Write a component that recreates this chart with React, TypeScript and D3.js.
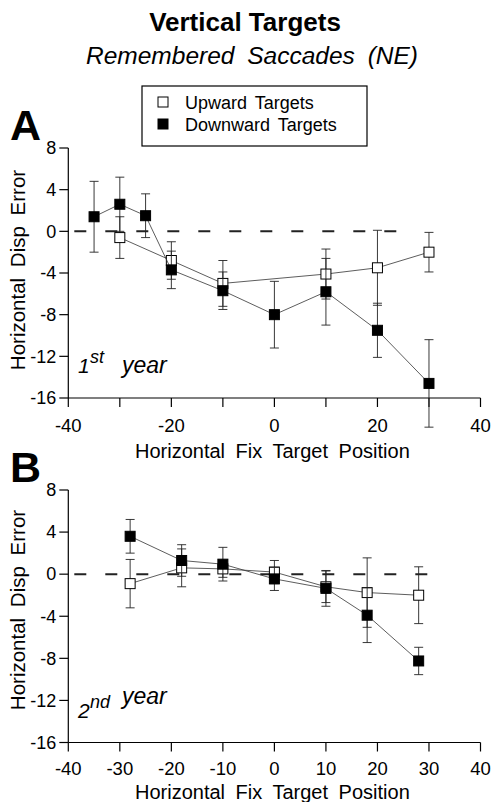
import React from "react";
import * as d3 from "d3";

// ---- Data ----
const xTicksA = [-40, -20, 0, 20, 40];
const xTicksB = [-40, -30, -20, -10, 0, 10, 20, 30, 40];
const xMinorA = [-30, -10, 10, 30];
const yTicks = [8, 4, 0, -4, -8, -12, -16];

const aUpX = [-30, -20, -10, 10, 20, 30];
const aUpY = [-0.6, -2.8, -5.0, -4.1, -3.5, -2.0];
const aUpErr = [2.0, 1.8, 2.2, 2.4, 3.6, 1.9];
const aDownX = [-35, -30, -25, -20, -10, 0, 10, 20, 30];
const aDownY = [1.4, 2.6, 1.5, -3.7, -5.7, -8.0, -5.8, -9.5, -14.6];
const aDownErr = [3.4, 2.6, 2.1, 1.8, 1.8, 3.2, 3.2, 2.6, 4.2];

const bUpX = [-28, -18, -10, 0, 10, 18, 28];
const bUpY = [-0.9, 0.6, 0.5, 0.2, -1.2, -1.75, -2.0];
const bUpErr = [2.3, 1.8, 0.8, 1.1, 1.5, 3.3, 2.7];
const bDownX = [-28, -18, -10, 0, 10, 18, 28];
const bDownY = [3.6, 1.3, 0.95, -0.45, -1.35, -3.9, -8.25];
const bDownErr = [1.6, 1.5, 1.6, 1.1, 1.7, 2.6, 1.3];

const FONT = "'Liberation Sans', Arial, Helvetica, sans-serif";

type Series = { x: number[]; y: number[]; err: number[]; filled: boolean };

function Panel(props: {
  top: number;
  bottom: number;
  letter: string;
  letterY: number;
  xTicks: number[];
  xMinor: number[];
  up: Series;
  down: Series;
  dashEnd: number;
  yearNum: string;
  yearSup: string;
  yearNumY: number;
  yearRestY: number;
  tickLabelY: number;
  titleY: number;
  yLabelCenter: number;
}) {
  const x = d3.scaleLinear().domain([-40, 40]).range([68.3, 480.5]);
  const y = d3.scaleLinear().domain([-16, 8]).range([props.bottom, props.top]);
  const line = d3
    .line<[number, number]>()
    .x((d) => x(d[0]))
    .y((d) => y(d[1]));

  const drawSeries = (s: Series, key: string) => {
    const pts: [number, number][] = s.x.map((v, i) => [v, s.y[i]]);
    return (
      <g key={key}>
        <path d={line(pts) || ""} fill="none" stroke="#333" strokeWidth={0.8} />
        {pts.map((p, i) => {
          const cx = x(p[0]);
          const y1 = y(p[1] + s.err[i]);
          const y2 = y(p[1] - s.err[i]);
          return (
            <g key={i} stroke="#222" strokeWidth={0.9}>
              <line x1={cx} x2={cx} y1={y1} y2={y2} />
              <line x1={cx - 4.5} x2={cx + 4.5} y1={y1} y2={y1} />
              <line x1={cx - 4.5} x2={cx + 4.5} y1={y2} y2={y2} />
            </g>
          );
        })}
        {pts.map((p, i) => (
          <rect
            key={"m" + i}
            x={x(p[0]) - 5}
            y={y(p[1]) - 5}
            width={10}
            height={10}
            fill={s.filled ? "#000" : "#fff"}
            stroke="#000"
            strokeWidth={1}
          />
        ))}
      </g>
    );
  };

  return (
    <g>
      {/* zero dashed line */}
      <line
        x1={x(-40)}
        x2={props.dashEnd}
        y1={y(0)}
        y2={y(0)}
        stroke="#222"
        strokeWidth={2}
        strokeDasharray="12,19"
        strokeDashoffset={-6}
      />
      {/* axes */}
      <line x1={x(-40)} x2={x(-40)} y1={y(8)} y2={y(-16)} stroke="#000" strokeWidth={1.2} />
      <line x1={x(-40)} x2={x(40)} y1={y(-16)} y2={y(-16)} stroke="#000" strokeWidth={1.2} />
      {yTicks.map((t) => (
        <g key={"yt" + t}>
          <line x1={x(-40) - 9} x2={x(-40)} y1={y(t)} y2={y(t)} stroke="#000" strokeWidth={1.2} />
          <text
            x={x(-40) - 12}
            y={y(t)}
            dy="0.35em"
            textAnchor="end"
            fontSize={18}
            fontFamily={FONT}
          >
            {t}
          </text>
        </g>
      ))}
      {[...props.xTicks, ...props.xMinor].map((t) => (
        <line
          key={"xt" + t}
          x1={x(t)}
          x2={x(t)}
          y1={y(-16)}
          y2={y(-16) + 9}
          stroke="#000"
          strokeWidth={1.2}
        />
      ))}
      {props.xTicks.map((t) => (
        <text
          key={"xl" + t}
          x={x(t)}
          y={props.tickLabelY}
          textAnchor="middle"
          fontSize={18.5}
          fontFamily={FONT}
        >
          {t}
        </text>
      ))}
      <text
        x={x(0) - 2}
        y={props.titleY}
        textAnchor="middle"
        fontSize={20}
        fontFamily={FONT}
        wordSpacing={5}
      >
        Horizontal Fix Target Position
      </text>
      <text
        transform={`translate(25,${props.yLabelCenter}) rotate(-90)`}
        textAnchor="middle"
        fontSize={20.5}
        fontFamily={FONT}
        wordSpacing={5}
      >
        Horizontal Disp Error
      </text>
      <text x={10} y={props.letterY} fontSize={43} fontWeight="bold" fontFamily={FONT}>
        {props.letter}
      </text>
      {/* year label */}
      <text fontFamily={FONT} fontStyle="italic">
        <tspan x={78} y={props.yearNumY} fontSize={21}>
          {props.yearNum}
        </tspan>
        <tspan x={90} y={props.yearNumY - 10} fontSize={18}>
          {props.yearSup}
        </tspan>
        <tspan x={122} y={props.yearRestY} fontSize={23}>
          year
        </tspan>
      </text>
      {drawSeries(props.up, "up")}
      {drawSeries(props.down, "down")}
    </g>
  );
}

export default function App() {
  return (
    <svg
      width={496}
      height={802}
      style={{ position: "absolute", left: 0, top: 0, background: "#fff" }}
    >
      <rect width={496} height={802} fill="#fff" />
      <text x={245} y={31} textAnchor="middle" fontSize={26} fontWeight="bold" fontFamily={FONT}>
        Vertical Targets
      </text>
      <text
        x={252}
        y={64}
        textAnchor="middle"
        fontSize={24.5}
        fontStyle="italic"
        fontFamily={FONT}
        wordSpacing={6}
      >
        Remembered Saccades (NE)
      </text>
      {/* legend */}
      <rect x={142} y={86} width={225} height={60} fill="#fff" stroke="#000" strokeWidth={1.2} />
      <rect x={158} y={97} width={10} height={10} fill="#fff" stroke="#000" strokeWidth={1} />
      <rect x={158} y={119} width={10} height={10} fill="#000" stroke="#000" strokeWidth={1} />
      <text x={185} y={109} fontSize={18} fontFamily={FONT} wordSpacing={3}>
        Upward Targets
      </text>
      <text x={185} y={131} fontSize={18} fontFamily={FONT} wordSpacing={3}>
        Downward Targets
      </text>
      <Panel
        top={148}
        bottom={398}
        letter="A"
        letterY={140}
        xTicks={xTicksA}
        xMinor={xMinorA}
        up={{ x: aUpX, y: aUpY, err: aUpErr, filled: false }}
        down={{ x: aDownX, y: aDownY, err: aDownErr, filled: true }}
        dashEnd={412}
        yearNum="1"
        yearSup="st"
        yearNumY={373}
        yearRestY={373}
        tickLabelY={432}
        titleY={458}
        yLabelCenter={270}
      />
      <Panel
        top={490}
        bottom={742.5}
        letter="B"
        letterY={482}
        xTicks={xTicksB}
        xMinor={[]}
        up={{ x: bUpX, y: bUpY, err: bUpErr, filled: false }}
        down={{ x: bDownX, y: bDownY, err: bDownErr, filled: true }}
        dashEnd={428}
        yearNum="2"
        yearSup="nd"
        yearNumY={718}
        yearRestY={704}
        tickLabelY={775}
        titleY={799}
        yLabelCenter={610}
      />
    </svg>
  );
}
